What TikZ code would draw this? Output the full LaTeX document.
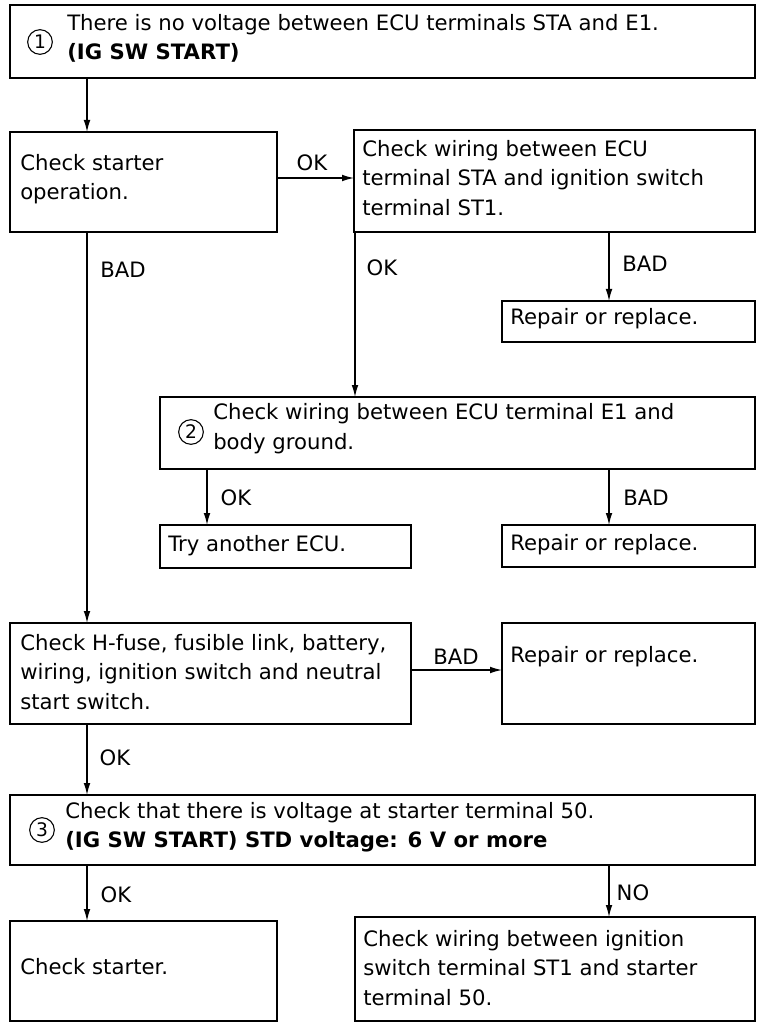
\documentclass[tikz,border=0pt]{standalone}
\usepackage{fontspec}
\setmainfont{DejaVu Sans}
\usetikzlibrary{arrows.meta}
\newcommand\mkbox[5]{\node[box, minimum width={(#4-#2)*0.75pt}, minimum height={(#5-#3)*0.75pt}] (#1) at ({(#2+#4)/2},{(#3+#5)/2}) {};}
\begin{document}
\begin{tikzpicture}[x=0.75pt,y=-0.75pt,
  box/.style={draw, rectangle, line width=1.3pt, inner sep=0pt, outer sep=0pt},
  txt/.style={anchor=west, inner sep=0pt, align=left, font=\fontsize{15.9}{22}\selectfont},
  lbl/.style={inner sep=0pt, font=\fontsize{15.9}{18}\selectfont},
  num/.style={draw, circle, line width=0.8pt, minimum size=18.5pt, inner sep=0pt, font=\fontsize{14}{14}\selectfont},
  arr/.style={line width=0.9pt, -{Latex[length=9pt,width=5pt]}},
  ln/.style={line width=0.9pt}]
\useasboundingbox (0,0) rectangle (757,1023);
% boxes
\mkbox{b1}{10}{5}{755}{78}
\mkbox{b2}{10}{132}{277}{232}
\mkbox{b3}{354}{130}{755}{232}
\mkbox{r1}{502}{301}{755}{342}
\mkbox{b4}{160}{397}{755}{469}
\mkbox{try}{160}{525}{411}{568}
\mkbox{r2}{502}{525}{755}{567}
\mkbox{h}{10}{623}{411}{724}
\mkbox{r3}{502}{623}{755}{724}
\mkbox{b5}{10}{795}{755}{865}
\mkbox{cs}{10}{921}{277}{1021}
\mkbox{cw}{355}{917}{755}{1021}
% circled numbers
\node[num] (n1) at (40,42) {1};
\node[num] (n2) at (191,432) {2};
\node[num] (n3) at (42,830) {3};
% texts
\node[txt] (t1) at (67,38.5) {There is no voltage between ECU terminals STA and E1.\\\textbf{(IG SW START)}};
\node[txt] (t2) at (20,179) {Check starter\\operation.};
\node[txt] (t3) at (362,178) {Check wiring between ECU\\terminal STA and ignition switch\\terminal ST1.};
\node[txt] (tr1) at (510,319) {Repair or replace.};
\node[txt] (t4) at (213,428.5) {Check wiring between ECU terminal E1 and\\body ground.};
\node[txt] (ttry) at (168,546) {Try another ECU.};
\node[txt] (tr2) at (510,545) {Repair or replace.};
\node[txt] (th) at (20,672) {Check H-fuse, fusible link, battery,\\wiring, ignition switch and neutral\\start switch.};
\node[txt] (tr3) at (510,657) {Repair or replace.};
\node[txt] (t5) at (65,827) {Check that there is voltage at starter terminal 50.\\\textbf{(IG SW START) STD voltage: 6 V or more}};
\node[txt] (tcs) at (20,967) {Check starter.};
\node[txt] (tcw) at (363,968) {Check wiring between ignition\\switch terminal ST1 and starter\\terminal 50.};
% column / row coordinates
\coordinate (c1) at (87,0);
\coordinate (c2) at (355,0);
\coordinate (c3) at (609,0);
\coordinate (c4) at (207,0);
\coordinate (ya) at (0,178);
\coordinate (yb) at (0,670);
% connectors
\draw[arr] (c1 |- b1.south) -- (c1 |- b2.north);
\draw[arr] (b2.east |- ya) -- (b3.west |- ya);
\draw[arr] (c1 |- b2.south) -- (c1 |- h.north);
\draw[arr] (c2 |- b3.south) -- (c2 |- b4.north);
\draw[arr] (c3 |- b3.south) -- (c3 |- r1.north);
\draw[arr] (c4 |- b4.south) -- (c4 |- try.north);
\draw[arr] (c3 |- b4.south) -- (c3 |- r2.north);
\draw[arr] (h.east |- yb) -- (r3.west |- yb);
\draw[arr] (c1 |- h.south) -- (c1 |- b5.north);
\draw[arr] (c1 |- b5.south) -- (c1 |- cs.north);
\draw[arr] (c3 |- b5.south) -- (c3 |- cw.north);
% labels
\node[lbl] (l1) at (312,163) {OK};
\node[lbl] (l2) at (123,270) {BAD};
\node[lbl] (l3) at (382,268) {OK};
\node[lbl] (l4) at (645,264) {BAD};
\node[lbl] (l5) at (236,498) {OK};
\node[lbl] (l6) at (646,498) {BAD};
\node[lbl] (l7) at (456,657) {BAD};
\node[lbl] (l8) at (115,758) {OK};
\node[lbl] (l9) at (116,895) {OK};
\node[lbl] (l10) at (633,893) {NO};
\end{tikzpicture}
\end{document}
